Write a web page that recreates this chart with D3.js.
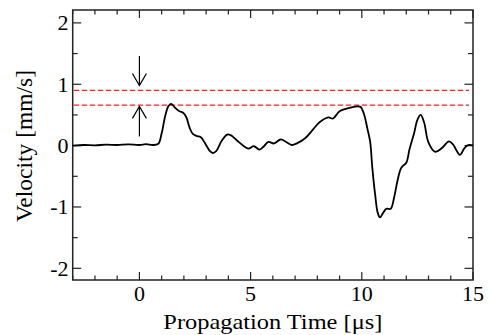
<!DOCTYPE html>
<html>
<head>
<meta charset="utf-8">
<script src="https://cdn.jsdelivr.net/npm/d3@7"></script>
<style>
html,body{margin:0;padding:0;background:#fff;}
svg{display:block;}
text{font-family:"Liberation Serif","Times New Roman",serif;fill:#000;}
</style>
</head>
<body>
<svg id="chart" width="489" height="335"></svg>
<script>
// ---- data ----
const timeUs = [-3,-2.5,-2,-1.5,-1,-0.5,0,0.3,0.6,0.85,1.0,1.17,1.3,1.42,1.6,1.8,1.95,2.1,2.25,2.4,2.6,2.75,2.95,3.15,3.3,3.45,3.7,3.95,4.1,4.4,4.7,4.9,5.15,5.4,5.6,5.8,6.05,6.35,6.6,6.85,7.1,7.45,7.8,8.1,8.5,8.7,9.0,9.4,9.8,9.95,10.1,10.25,10.38,10.47,10.6,10.72,10.82,10.95,11.1,11.3,11.45,11.6,11.75,11.85,12.0,12.15,12.35,12.5,12.65,12.8,13.0,13.3,13.6,13.92,14.1,14.41,14.6,14.75,15.0];
const velocity = [0.0,0.01,0.005,0.015,0.01,0.02,0.01,0.025,0.01,0.03,0.2,0.5,0.64,0.68,0.62,0.56,0.54,0.47,0.30,0.19,0.155,0.14,0.04,-0.08,-0.12,-0.09,0.08,0.18,0.17,0.08,-0.01,-0.05,-0.01,-0.065,-0.01,0.06,0.035,0.10,0.06,0.01,0.04,0.12,0.26,0.38,0.46,0.44,0.56,0.61,0.64,0.63,0.51,0.28,0.05,-0.35,-0.8,-1.1,-1.17,-1.1,-1.03,-1.03,-0.85,-0.58,-0.38,-0.33,-0.28,-0.05,0.20,0.42,0.50,0.38,0.05,-0.10,-0.04,0.07,0.02,-0.15,-0.05,0.005,0.005];
const thresholds = [0.90, 0.66];
// arrows: [x, tail value, tip value]
const arrows = [[0, 1.46, 0.98], [0, 0.15, 0.64]];
const xTicks = [0, 5, 10, 15];
const xMinor = d3.range(-3, 15.001, 1);
const yTicks = [-2, -1, 0, 1, 2];
const yMinor = d3.range(-2, 2.001, 0.5);

// ---- layout ----
const L = 72.7, R = 473, T = 10, B = 280;
const svg = d3.select("#chart");
const x = d3.scaleLinear().domain([-3, 15]).range([L, R]);
const y = d3.scaleLinear().domain([-2.19, 2.21]).range([B, T]);

const fs = 22;
const axisColor = "#222";

function tickSet(vals, major) {
  return vals.map(v => ({v, major: major.some(m => Math.abs(m - v) < 1e-9)}));
}
const xt = tickSet(xMinor, xTicks);
const yt = tickSet(yMinor, yTicks);
const g = svg.append("g");
g.selectAll(".xb").data(xt).enter().append("line")
  .attr("x1", d => x(d.v)).attr("x2", d => x(d.v))
  .attr("y1", B).attr("y2", d => B - (d.major ? 8 : 4.5))
  .attr("stroke", axisColor).attr("stroke-width", 1.2);
g.selectAll(".xt").data(xt).enter().append("line")
  .attr("x1", d => x(d.v)).attr("x2", d => x(d.v))
  .attr("y1", T).attr("y2", d => T + (d.major ? 8 : 4.5))
  .attr("stroke", axisColor).attr("stroke-width", 1.2);
g.selectAll(".yl").data(yt).enter().append("line")
  .attr("y1", d => y(d.v)).attr("y2", d => y(d.v))
  .attr("x1", L).attr("x2", d => L + (d.major ? 8.5 : 5))
  .attr("stroke", axisColor).attr("stroke-width", 1.2);
g.selectAll(".yr").data(yt).enter().append("line")
  .attr("y1", d => y(d.v)).attr("y2", d => y(d.v))
  .attr("x1", R).attr("x2", d => R - (d.major ? 8.5 : 5))
  .attr("stroke", axisColor).attr("stroke-width", 1.2);

svg.append("rect").attr("x", L).attr("y", T).attr("width", R - L).attr("height", B - T)
  .attr("fill", "none").attr("stroke", axisColor).attr("stroke-width", 1.5);

svg.selectAll(".xl").data(xTicks).enter().append("text")
  .attr("x", d => x(d)).attr("y", 300.5).attr("text-anchor", "middle")
  .attr("font-size", fs).text(d => d);
svg.selectAll(".ylab").data(yTicks).enter().append("text")
  .attr("x", 68.5).attr("y", d => y(d)).attr("dy", "0.33em").attr("text-anchor", "end")
  .attr("font-size", fs).text(d => d);

svg.append("text").attr("x", (L + R) / 2).attr("y", 328.5).attr("text-anchor", "middle")
  .attr("font-size", fs).attr("textLength", 219).attr("lengthAdjust", "spacingAndGlyphs")
  .text("Propagation Time [\u03bcs]");
svg.append("text").attr("transform", `translate(31.5,${(T + B) / 2 + 1}) rotate(-90)`)
  .attr("text-anchor", "middle").attr("font-size", fs + 1)
  .attr("textLength", 152).attr("lengthAdjust", "spacingAndGlyphs")
  .text("Velocity [mm/s]");

svg.selectAll(".thr").data(thresholds).enter().append("line")
  .attr("x1", L + 1).attr("x2", R - 4).attr("y1", d => y(d)).attr("y2", d => y(d))
  .attr("stroke", "#e8262a").attr("stroke-width", 1.4).attr("stroke-dasharray", "5.5,2.5");

arrows.forEach(([ax, tail, tip]) => {
  const px = x(ax), y0 = y(tail), y1 = y(tip);
  const dir = Math.sign(y1 - y0);
  svg.append("line").attr("x1", px).attr("x2", px).attr("y1", y0).attr("y2", y1)
    .attr("stroke", "#000").attr("stroke-width", 1.2);
  svg.append("path")
    .attr("d", `M${px - 7},${y1 - dir * 12} L${px},${y1} L${px + 7},${y1 - dir * 12}`)
    .attr("fill", "none").attr("stroke", "#000").attr("stroke-width", 1.2);
});

const pts = timeUs.map((t, i) => [t, velocity[i]]);
const line = d3.line().x(d => x(d[0])).y(d => y(d[1])).curve(d3.curveCatmullRom.alpha(0.5));
svg.append("path").datum(pts).attr("d", line)
  .attr("fill", "none").attr("stroke", "#000").attr("stroke-width", 1.8);
</script>
</body>
</html>
